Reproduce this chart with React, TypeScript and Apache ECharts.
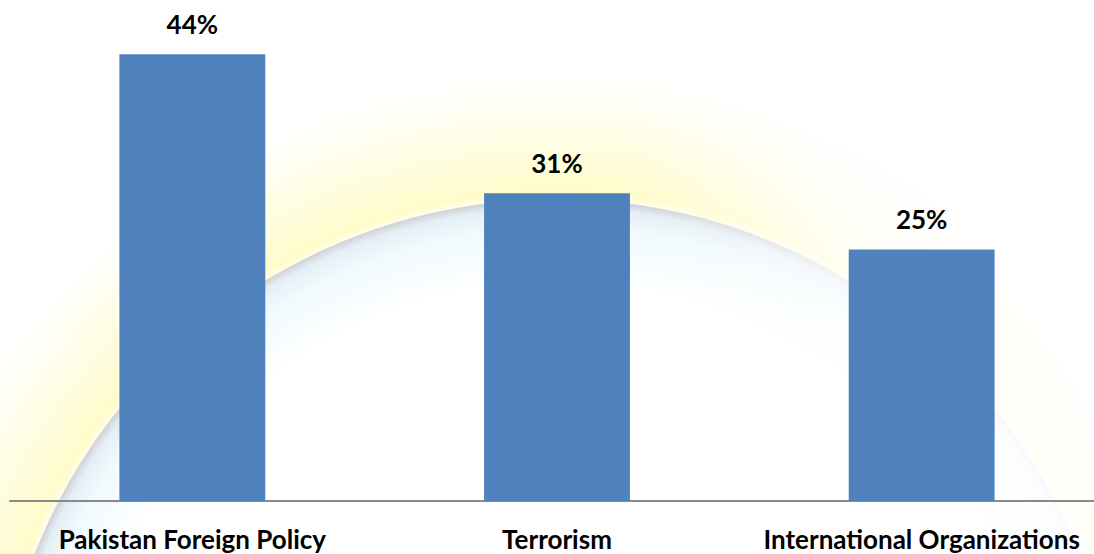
import React, { useEffect, useRef } from "react";
import * as echarts from "echarts";

const categories = ["Pakistan Foreign Policy", "Terrorism", "International Organizations"];
const shares = [44.4, 30.6, 25.0];

export default function App() {
  const ref = useRef<HTMLDivElement>(null);
  useEffect(() => {
    if (!ref.current) return;
    const chart = echarts.init(ref.current, null, { renderer: "svg" });
    const cx = 557;
    const cy = 761;
    const rOuter = 705;
    const rInner = 562;
    chart.setOption({
      animation: false,
      backgroundColor: "#ffffff",
      graphic: [
        {
          type: "circle",
          z: -10,
          silent: true,
          shape: { cx, cy, r: rOuter },
          style: {
            fill: {
              type: "radial",
              x: 0.5,
              y: 0.5,
              r: 0.5,
              colorStops: [
                { offset: 0, color: "rgba(255,255,255,0)" },
                { offset: rInner / rOuter - 0.02, color: "rgba(255,255,255,0)" },
                { offset: rInner / rOuter + 0.01, color: "rgba(255,249,160,0.55)" },
                { offset: 0.9, color: "rgba(255,251,190,0.35)" },
                { offset: 1, color: "rgba(255,255,255,0)" },
              ],
            },
          },
        },
        {
          type: "circle",
          z: -9,
          silent: true,
          shape: { cx, cy, r: rInner },
          style: {
            fill: {
              type: "radial",
              x: 0.5,
              y: 0.5,
              r: 0.5,
              colorStops: [
                { offset: 0, color: "#ffffff" },
                { offset: 0.85, color: "#ffffff" },
                { offset: 0.95, color: "#f0fafd" },
                { offset: 0.985, color: "#e4eef5" },
                { offset: 1, color: "#cfd2d8" },
              ],
            },
          },
        },
        {
          type: "rect",
          z: -8,
          silent: true,
          shape: { x: 640, y: 0, width: 470, height: 554 },
          style: {
            fill: {
              type: "linear",
              x: 0,
              y: 0,
              x2: 1,
              y2: 0,
              colorStops: [
                { offset: 0, color: "rgba(255,255,255,0)" },
                { offset: 0.45, color: "rgba(255,255,255,0.75)" },
                { offset: 1, color: "rgba(255,255,255,0.9)" },
              ],
            },
          },
        },
      ],
      grid: { left: 10, right: 0, top: 0, bottom: 53, containLabel: false },
      xAxis: {
        type: "category",
        data: categories,
        axisLine: { show: true, lineStyle: { color: "#898989", width: 2 } },
        axisTick: { show: false },
        axisLabel: {
          color: "#000000",
          fontFamily: "Lato",
          fontWeight: "bold",
          fontSize: 26,
          margin: 25,
          interval: 0,
        },
      },
      yAxis: {
        type: "value",
        min: 0,
        max: 49.8,
        show: false,
        splitLine: { show: false },
      },
      series: [
        {
          type: "bar",
          data: shares,
          barWidth: "40%",
          itemStyle: { color: "#4F81BD" },
          label: {
            show: true,
            position: "top",
            distance: 17,
            color: "#000000",
            fontFamily: "Lato",
            fontWeight: "bold",
            fontSize: 26,
            formatter: (p: any) => Math.round(p.value) + "%",
          },
        },
      ],
    });
    return () => chart.dispose();
  }, []);
  return (
    <div style={{ position: "fixed", left: 0, top: 0, width: 1094, height: 554, overflow: "hidden" }}>
      <div ref={ref} style={{ width: 1104, height: 554 }} />
    </div>
  );
}
